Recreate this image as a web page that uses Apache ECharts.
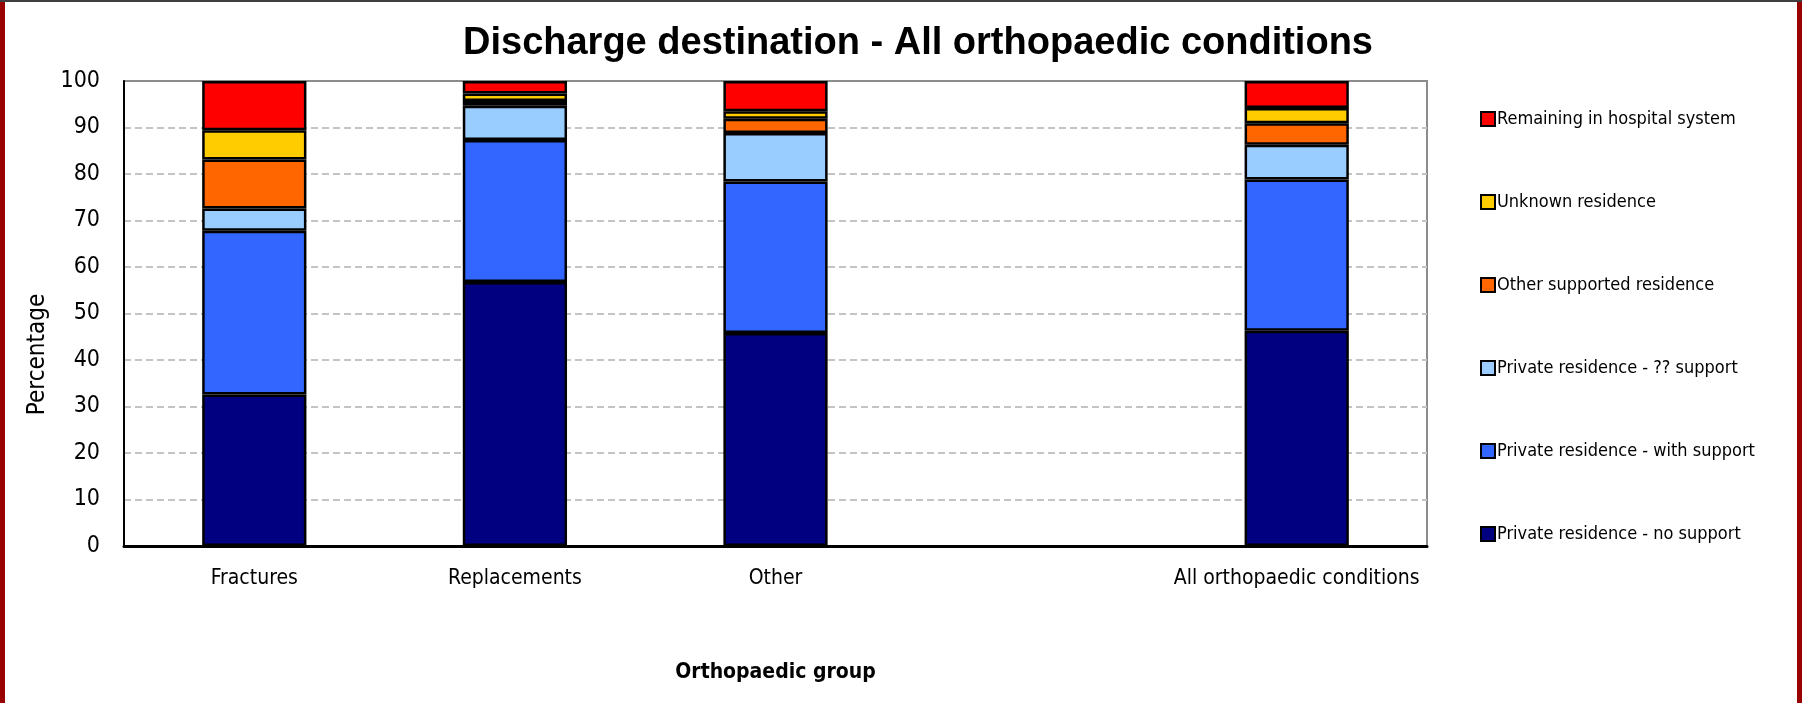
<!DOCTYPE html>
<html>
<head>
<meta charset="utf-8">
<title>Discharge destination - All orthopaedic conditions</title>
<script src="https://cdn.jsdelivr.net/npm/echarts@6/dist/echarts.min.js"></script>
<style>
  html, body { margin: 0; padding: 0; background: #ffffff; }
  #chart { width: 1802px; height: 703px; }
</style>
</head>
<body>
<div id="chart"></div>
<script>
// Orthopaedic groups (the blank slot separates the overall total from the groups)
const categories = ['Fractures', 'Replacements', 'Other', '', 'All orthopaedic conditions'];

// Percentage of discharges by destination, bottom of the stack first
const noSupport      = [32.6, 56.8, 45.8, null, 46.3];
const withSupport    = [35.2, 30.5, 32.6, null, 32.5];
const unknownSupport = [4.8, 7.4, 10.4, null, 7.5];
const otherSupported = [10.5, 1.0, 3.1, null, 4.6];
const unknownRes     = [6.3, 1.6, 1.6, null, 3.3];
const remaining      = [10.6, 2.7, 6.5, null, 5.8];

const yTicks = { min: 0, max: 100, interval: 10 };

const seriesDefs = [
  { name: 'Private residence - no support', data: noSupport, color: '#000080' },
  { name: 'Private residence - with support', data: withSupport, color: '#3366FF' },
  { name: 'Private residence - ?? support', data: unknownSupport, color: '#99CCFF' },
  { name: 'Other supported residence', data: otherSupported, color: '#FF6600' },
  { name: 'Unknown residence', data: unknownRes, color: '#FFCC00' },
  { name: 'Remaining in hospital system', data: remaining, color: '#FF0000' }
];

const narrow = "'Liberation Sans Narrow', 'Arial Narrow', 'DejaVu Sans Condensed', sans-serif";

const chart = echarts.init(document.getElementById('chart'), null, { renderer: 'canvas' });

chart.setOption({
  backgroundColor: '#ffffff',
  animation: false,
  title: {
    text: 'Discharge destination - All orthopaedic conditions',
    left: 913,
    textAlign: 'center',
    top: 20,
    textStyle: {
      fontFamily: "'Liberation Sans', Arial, sans-serif",
      fontWeight: 'bold',
      fontSize: 38,
      color: '#000000'
    }
  },
  legend: {
    orient: 'vertical',
    left: 1475,
    top: 104,
    itemWidth: 14,
    itemHeight: 14,
    itemGap: 63,
    icon: 'rect',
    data: seriesDefs.map(s => s.name).reverse(),
    itemStyle: { borderColor: '#000000', borderWidth: 2 },
    textStyle: {
      fontFamily: narrow,
      fontSize: 18,
      color: '#000000',
      padding: [0, 0, 0, -3],
      lineHeight: 20
    }
  },
  grid: {
    left: 124,
    right: 1802 - 1427,
    top: 81,
    bottom: 703 - 546,
    show: true,
    borderColor: '#8c8c8c',
    borderWidth: 2,
    backgroundColor: 'transparent'
  },
  xAxis: {
    type: 'category',
    data: categories,
    name: 'Orthopaedic group',
    nameLocation: 'middle',
    nameGap: 116,
    nameTextStyle: {
      fontFamily: narrow,
      fontWeight: 'bold',
      fontSize: 21,
      color: '#000000'
    },
    axisLine: { lineStyle: { color: '#000000', width: 3 } },
    axisTick: { show: false },
    axisLabel: {
      fontFamily: narrow,
      fontSize: 21,
      color: '#000000',
      margin: 22,
      interval: 0
    }
  },
  yAxis: {
    type: 'value',
    min: yTicks.min,
    max: yTicks.max,
    interval: yTicks.interval,
    name: 'Percentage',
    nameLocation: 'middle',
    nameRotate: 90,
    nameGap: 72,
    nameTextStyle: {
      fontFamily: narrow,
      fontSize: 24,
      color: '#000000',
      padding: [0, 82, 0, 0]
    },
    axisLine: { show: true, lineStyle: { color: '#000000', width: 2 } },
    axisTick: { show: false },
    axisLabel: {
      fontFamily: narrow,
      fontSize: 23,
      color: '#000000',
      margin: 24
    },
    splitLine: {
      show: true,
      showMaxLine: false,
      showMinLine: false,
      lineStyle: { color: '#c4c4c4', width: 2, type: [7, 4] }
    }
  },
  series: seriesDefs.map(s => ({
    name: s.name,
    type: 'bar',
    stack: 'total',
    data: s.data,
    barWidth: '40%',
    itemStyle: {
      color: s.color,
      borderColor: '#000000',
      borderWidth: 2.5
    },
    emphasis: { disabled: true }
  })),
  graphic: [
    // frame around the chart area
    { type: 'rect', left: 0, top: 0, shape: { width: 5, height: 703 }, style: { fill: '#990000' } },
    { type: 'rect', left: 1797, top: 0, shape: { width: 5, height: 703 }, style: { fill: '#990000' } },
    { type: 'rect', left: 0, top: 0, shape: { width: 1802, height: 2 }, style: { fill: '#404040' } }
  ]
});
</script>
</body>
</html>
